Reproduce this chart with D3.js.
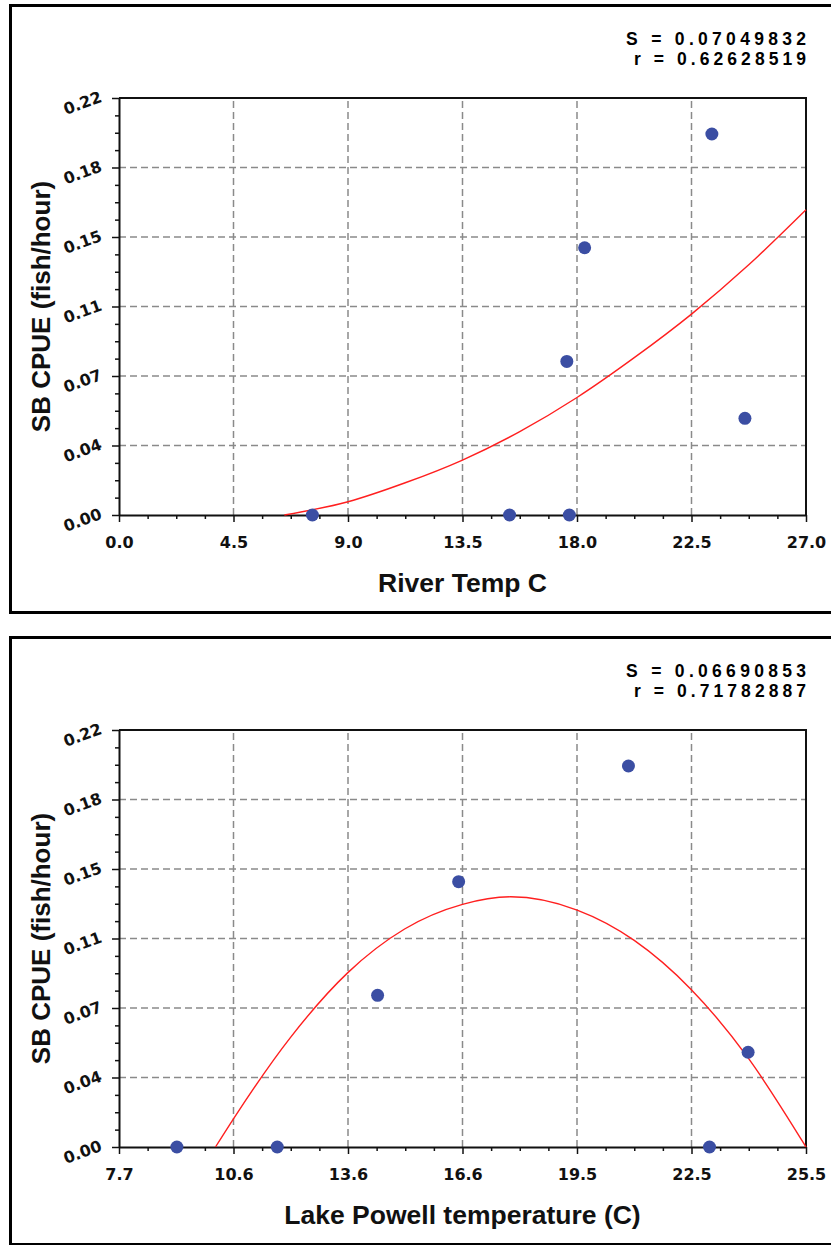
<!DOCTYPE html>
<html>
<head>
<meta charset="utf-8">
<script src="https://cdn.jsdelivr.net/npm/d3@7"></script>
<style>
  html, body { margin: 0; padding: 0; background: #fff; }
  svg { display: block; }
</style>
</head>
<body>
<div id="chart"></div>
<script>
// shared y axis (CPUE)
const yMax = 0.22;
const yTickLabels = ['0.00', '0.04', '0.07', '0.11', '0.15', '0.18', '0.22'];
const yTitle = 'SB CPUE (fish/hour)';

// panel 1: river temperature
const riverDomain = [0, 27];
const riverTickLabels = ['0.0', '4.5', '9.0', '13.5', '18.0', '22.5', '27.0'];
const riverTemp = [7.6, 15.35, 17.7, 17.6, 18.3, 23.3, 24.6];
const riverCpue = [0, 0, 0, 0.081, 0.141, 0.201, 0.051];
const riverFitX = [6.5, 9.0, 11.25, 13.5, 15.75, 18.0, 20.25, 22.5, 24.75, 27.0];
const riverFitY = [0.000, 0.007, 0.017, 0.029, 0.044, 0.062, 0.083, 0.106, 0.132, 0.161];
const riverStats = ['S = 0.07049832', 'r = 0.62628519'];

// panel 2: lake powell temperature
const lakeDomain = [7.7, 25.5];
const lakeTickLabels = ['7.7', '10.6', '13.6', '16.6', '19.5', '22.5', '25.5'];
const lakeTemp = [9.2, 11.8, 14.4, 16.5, 20.9, 23.0, 24.0];
const lakeCpue = [0, 0, 0.080, 0.140, 0.201, 0, 0.050];
const lakeFitX = [10.2, 10.67, 12.15, 13.63, 15.1, 16.6, 17.85, 19.57, 21.05, 22.53, 24.0, 25.5];
const lakeFitY = [0.000, 0.015, 0.058, 0.092, 0.115, 0.128, 0.132, 0.125, 0.109, 0.083, 0.047, 0.000];
const lakeStats = ['S = 0.06690853', 'r = 0.71782887'];

const svg = d3.select('#chart').append('svg')
  .attr('width', 831)
  .attr('height', 1245);

const plot = { left: 119, right: 806, top: 94, bottom: 511 };
const tickFont = "'DejaVu Sans', Verdana, sans-serif";
const titleFont = "'Liberation Sans', Arial, sans-serif";

function evenSteps(lo, hi, n) {
  return d3.range(n + 1).map(i => lo + (hi - lo) * i / n);
}

function drawPanel(top, p) {
  const g = svg.append('g').attr('transform', `translate(0,${top})`);

  // outer frame - runs off the right edge like the source screenshot
  g.append('rect')
    .attr('x', 10.5).attr('y', 1.5)
    .attr('width', 840).attr('height', 607)
    .attr('fill', 'none').attr('stroke', '#000').attr('stroke-width', 3);

  const x = d3.scaleLinear().domain(p.domain).range([plot.left, plot.right]);
  const y = d3.scaleLinear().domain([0, yMax]).range([plot.bottom, plot.top]);

  const xMajor = evenSteps(p.domain[0], p.domain[1], 6);
  const yMajor = evenSteps(0, yMax, 6);
  const xMinor = evenSteps(p.domain[0], p.domain[1], 24).filter((d, i) => i % 4);
  const yMinor = evenSteps(0, yMax, 24).filter((d, i) => i % 4);

  // dashed grid
  const grid = g.append('g')
    .attr('stroke', '#8a8a8a').attr('stroke-width', 1.5)
    .attr('stroke-dasharray', '7,4');
  grid.selectAll('.gx').data(xMajor.slice(1, -1)).join('line')
    .attr('x1', d => x(d)).attr('x2', d => x(d))
    .attr('y1', plot.bottom).attr('y2', plot.top);
  grid.selectAll('.gy').data(yMajor.slice(1, -1)).join('line')
    .attr('y1', d => y(d)).attr('y2', d => y(d))
    .attr('x1', plot.left).attr('x2', plot.right);

  // top / right plot border
  g.append('path')
    .attr('d', `M${plot.left},${plot.top}H${plot.right}V${plot.bottom}`)
    .attr('fill', 'none').attr('stroke', '#111').attr('stroke-width', 2);

  // x axis
  const xAxis = g.append('g')
    .attr('transform', `translate(0,${plot.bottom})`)
    .call(d3.axisBottom(x).tickValues(xMajor).tickSize(7).tickSizeOuter(0)
      .tickFormat((d, i) => p.tickLabels[i]));
  xAxis.select('.domain').attr('stroke', '#111').attr('stroke-width', 2);
  xAxis.selectAll('.tick line').attr('stroke', '#111').attr('stroke-width', 1.5);
  xAxis.selectAll('text')
    .attr('y', 33).attr('dy', 0)
    .style('font-family', tickFont).style('font-weight', 'bold')
    .style('font-size', '16px').attr('fill', '#111');
  g.append('g')
    .attr('transform', `translate(0,${plot.bottom})`)
    .call(d3.axisBottom(x).tickValues(xMinor).tickSize(4).tickFormat(''))
    .call(a => a.select('.domain').remove())
    .selectAll('line').attr('stroke', '#111').attr('stroke-width', 1.5);

  // y axis, labels tilted like the original
  const yAxis = g.append('g')
    .attr('transform', `translate(${plot.left},0)`)
    .call(d3.axisLeft(y).tickValues(yMajor).tickSize(7).tickSizeOuter(0)
      .tickFormat((d, i) => yTickLabels[i]));
  yAxis.select('.domain').attr('stroke', '#111').attr('stroke-width', 2);
  yAxis.selectAll('.tick line').attr('stroke', '#111').attr('stroke-width', 1.5);
  yAxis.selectAll('text')
    .attr('x', 0).attr('dy', 0)
    .attr('text-anchor', 'end')
    .attr('transform', 'translate(-16,3) rotate(-20)')
    .style('font-family', tickFont).style('font-weight', 'bold')
    .style('font-size', '16px').attr('fill', '#111');
  g.append('g')
    .attr('transform', `translate(${plot.left},0)`)
    .call(d3.axisLeft(y).tickValues(yMinor).tickSize(4).tickFormat(''))
    .call(a => a.select('.domain').remove())
    .selectAll('line').attr('stroke', '#111').attr('stroke-width', 1.5);

  // fitted curve
  const fit = p.fitX.map((d, i) => [d, p.fitY[i]]);
  g.append('path')
    .datum(fit)
    .attr('fill', 'none').attr('stroke', '#ff1f1f').attr('stroke-width', 1.4)
    .attr('d', d3.line().x(d => x(d[0])).y(d => y(d[1])).curve(d3.curveMonotoneX));

  // observations
  const pts = p.xs.map((d, i) => ({ x: d, y: p.ys[i] }));
  g.selectAll('circle').data(pts).join('circle')
    .attr('cx', d => x(d.x)).attr('cy', d => y(d.y))
    .attr('r', 6.5).attr('fill', '#3b4ea3');

  // titles
  g.append('text')
    .attr('x', (plot.left + plot.right) / 2).attr('y', plot.bottom + 77)
    .attr('text-anchor', 'middle')
    .style('font-family', titleFont).style('font-weight', 'bold')
    .style('font-size', '26.5px').attr('fill', '#111')
    .text(p.xTitle);
  g.append('text')
    .attr('transform', `translate(50,${(plot.top + plot.bottom) / 2}) rotate(-90)`)
    .attr('text-anchor', 'middle')
    .style('font-family', titleFont).style('font-weight', 'bold')
    .style('font-size', '26px').attr('fill', '#111')
    .text(yTitle);

  // fit statistics, top right
  g.selectAll('.stat').data(p.stats).join('text')
    .attr('x', plot.right).attr('y', (d, i) => 41 + i * 20)
    .attr('text-anchor', 'end')
    .attr('textLength', (d, i) => i ? 172 : 180)
    .attr('lengthAdjust', 'spacing')
    .style('font-family', "'Liberation Sans Narrow', 'Liberation Sans', Arial, sans-serif")
    .style('font-weight', 'bold').style('font-size', '17.5px').attr('fill', '#000')
    .text(d => d);
}

drawPanel(4, {
  domain: riverDomain, tickLabels: riverTickLabels,
  xs: riverTemp, ys: riverCpue,
  fitX: riverFitX, fitY: riverFitY,
  stats: riverStats, xTitle: 'River Temp C'
});

drawPanel(636, {
  domain: lakeDomain, tickLabels: lakeTickLabels,
  xs: lakeTemp, ys: lakeCpue,
  fitX: lakeFitX, fitY: lakeFitY,
  stats: lakeStats, xTitle: 'Lake Powell temperature (C)'
});
</script>
</body>
</html>
